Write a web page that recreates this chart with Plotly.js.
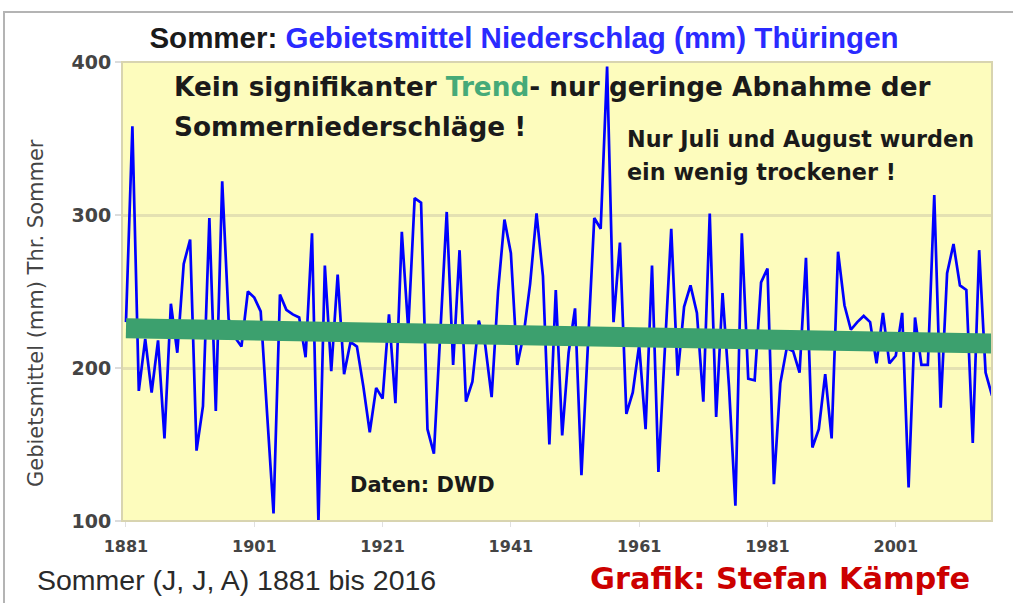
<!DOCTYPE html>
<html>
<head>
<meta charset="utf-8">
<script src="https://cdn.plot.ly/plotly-3.0.1.min.js"></script>
<style>html,body{margin:0;padding:0;background:#fff;}#chart{width:1013px;height:603px;}</style>
</head>
<body>
<div id="chart"></div>
<script>
// ---- data ----
var startYear = 1881;
var precipitation = [
  230, 358, 185, 219, 184, 218, 154, 242, 210, 268,   // 1881-1890
  284, 146, 175, 298, 172, 322, 232, 220, 214, 250,   // 1891-1900
  246, 237, 170, 105, 248, 238, 235, 233, 207, 288,   // 1901-1910
   99, 267, 198, 261, 196, 217, 214, 188, 158, 187,   // 1911-1920
  180, 235, 177, 289, 225, 311, 308, 160, 144, 222,   // 1921-1930
  302, 202, 277, 178, 191, 231, 215, 181, 250, 297,   // 1931-1940
  275, 202, 222, 255, 301, 260, 150, 251, 156, 210,   // 1941-1950
  239, 130, 215, 298, 291, 397, 230, 282, 170, 184,   // 1951-1960
  215, 160, 267, 132, 212, 291, 195, 240, 254, 236,   // 1961-1970
  178, 301, 168, 249, 188, 110, 288, 193, 192, 256,   // 1971-1980
  265, 124, 190, 213, 211, 197, 272, 148, 160, 196,   // 1981-1990
  154, 276, 241, 225, 230, 234, 230, 203, 236, 203,   // 1991-2000
  208, 236, 122, 233, 202, 202, 313, 174, 262, 281,   // 2001-2010
  254, 251, 151, 277, 197, 182                        // 2011-2016
];
var years = precipitation.map(function(v, i){ return startYear + i; });
var trendYears = [1881, 2016];
var trendValues = [226, 216];
var xTickVals = [1881, 1901, 1921, 1941, 1961, 1981, 2001];
var xTickText = ["1881", "1901", "1921", "1941", "1961", "1981", "2001"];
var yTickVals = [100, 200, 300, 400];
var yTickText = ["100", "200", "300", "400"];

// ---- geometry helpers (pixels -> paper) ----
var L = 122, R = 992, T = 62, B = 521;
function px(x){ return (x - L) / (R - L); }
function py(y){ return (B - y) / (B - T); }

var FONT = "DejaVu Sans, Liberation Sans, Arial, sans-serif";
var ARIAL = "Liberation Sans, Arial, sans-serif";

var traces = [
  { x: years, y: precipitation, type: "scatter", mode: "lines",
    line: { color: "#0000ff", width: 2.7 }, hoverinfo: "x+y", showlegend: false },
  { x: trendYears, y: trendValues, type: "scatter", mode: "lines",
    line: { color: "rgb(60,160,110)", width: 20 }, hoverinfo: "skip", showlegend: false }
];

var layout = {
  width: 1013, height: 603,
  margin: { l: L, r: 1013 - R, t: T, b: 603 - B, pad: 0 },
  paper_bgcolor: "#ffffff",
  plot_bgcolor: "#fdfcbd",
  showlegend: false,
  font: { family: FONT, color: "#333" },
  title: {
    text: "<b><span style='color:#1a1a1a'>Sommer:</span> <span style='color:#2a2aff'>Gebietsmittel Niederschlag (mm) Thüringen</span></b>",
    font: { family: ARIAL, size: 29.5 },
    xref: "container", yref: "container",
    x: 524 / 1013, xanchor: "center", y: 1 - 38 / 603, yanchor: "middle"
  },
  xaxis: {
    range: [1880.38, 2016.0],
    tickmode: "array", tickvals: xTickVals, ticktext: xTickText,
    ticks: "outside", ticklen: 5, tickcolor: "#e0e0e0", tickwidth: 1,
    ticklabelstandoff: 6,
    showgrid: false, zeroline: false, showline: false,
    tickfont: { family: FONT, size: 16, color: "#444", weight: "bold" }
  },
  yaxis: {
    range: [100, 400],
    tickmode: "array", tickvals: yTickVals, ticktext: yTickText,
    ticks: "outside", ticklen: 6, tickcolor: "#dcdcdc", tickwidth: 2,
    showgrid: true, gridcolor: "#e4e1b2", gridwidth: 3,
    zeroline: false, showline: false,
    tickfont: { family: FONT, size: 19, color: "#444", weight: "bold" }
  },
  shapes: [
    { type: "rect", xref: "paper", yref: "paper", x0: 0, x1: 1, y0: 0, y1: 1,
      line: { color: "#d8d4b0", width: 2 }, fillcolor: "rgba(0,0,0,0)", layer: "above" },
    { type: "rect", xref: "paper", yref: "paper", x0: px(4), x1: px(1030), y0: py(620), y1: py(12),
      line: { color: "#b4b4b4", width: 2 }, fillcolor: "rgba(0,0,0,0)", layer: "below" }
  ],
  annotations: [
    { xref: "paper", yref: "paper", x: px(172), y: py(87), xanchor: "left", yanchor: "middle",
      showarrow: false, align: "left",
      text: "<b>Kein signifikanter <span style='color:rgb(70,170,120)'>Trend</span>- nur geringe Abnahme der</b>",
      font: { family: FONT, size: 26.3, color: "#1a1a1a" } },
    { xref: "paper", yref: "paper", x: px(172), y: py(127), xanchor: "left", yanchor: "middle",
      showarrow: false, align: "left", text: "<b>Sommerniederschläge !</b>",
      font: { family: FONT, size: 26.3, color: "#1a1a1a" } },
    { xref: "paper", yref: "paper", x: px(625), y: py(139), xanchor: "left", yanchor: "middle",
      showarrow: false, align: "left", text: "<b>Nur Juli und August wurden</b>",
      font: { family: FONT, size: 22.3, color: "#1a1a1a" } },
    { xref: "paper", yref: "paper", x: px(625), y: py(172), xanchor: "left", yanchor: "middle",
      showarrow: false, align: "left", text: "<b>ein wenig trockener !</b>",
      font: { family: FONT, size: 22.3, color: "#1a1a1a" } },
    { xref: "paper", yref: "paper", x: px(348), y: py(485), xanchor: "left", yanchor: "middle",
      showarrow: false, align: "left", text: "<b>Daten: DWD</b>",
      font: { family: FONT, size: 21, color: "#1a1a1a" } },
    { xref: "paper", yref: "paper", x: px(35), y: py(580), xanchor: "left", yanchor: "middle",
      showarrow: false, align: "left", text: "Sommer (J, J, A) 1881 bis 2016",
      font: { family: ARIAL, size: 28.5, color: "#2a2a2a" } },
    { xref: "paper", yref: "paper", x: px(588), y: py(578), xanchor: "left", yanchor: "middle",
      showarrow: false, align: "left", text: "<b>Grafik: Stefan Kämpfe</b>",
      font: { family: FONT, size: 30.4, color: "#cc0000" } },
    { xref: "paper", yref: "paper", x: px(36), y: py(313), xanchor: "center", yanchor: "middle",
      showarrow: false, textangle: -90, text: "Gebietsmittel (mm) Thr. Sommer",
      font: { family: FONT, size: 21, color: "#444" } }
  ]
};

Plotly.newPlot("chart", traces, layout, { displayModeBar: false, staticPlot: true });
</script>
</body>
</html>
